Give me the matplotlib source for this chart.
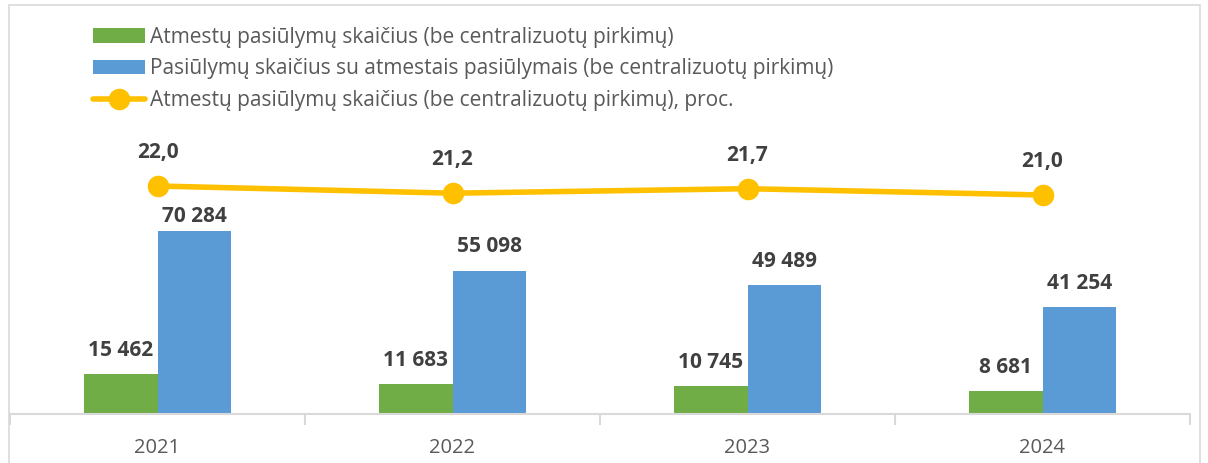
import matplotlib
matplotlib.use("Agg")
import matplotlib.pyplot as plt
from matplotlib.patches import Rectangle
import numpy as np

years = ["2021", "2022", "2023", "2024"]
rejected = [15462, 11683, 10745, 8681]
total = [70284, 55098, 49489, 41254]
percent = [22.0, 21.2, 21.7, 21.0]

labels = ["Atmestų pasiūlymų skaičius (be centralizuotų pirkimų)",
          "Pasiūlymų skaičius su atmestais pasiūlymais (be centralizuotų pirkimų)",
          "Atmestų pasiūlymų skaičius (be centralizuotų pirkimų), proc."]

def fmt_int(v):
    return f"{v:,}".replace(",", " ")

def fmt_pct(v):
    return f"{v:.1f}".replace(".", ",")

plt.rcParams['font.family'] = ['Open Sans', 'DejaVu Sans']
W, H = 1208, 463
fig = plt.figure(figsize=(W/100, H/100), dpi=100)

# border
fig.patches.append(Rectangle((9/W, -0.01), 1191/W, 1 - 5/H + 0.01, transform=fig.transFigure,
                             fill=False, edgecolor="#d9d9d9", linewidth=1.2))

ax_l, ax_r, ax_b, ax_t = 10, 1190, 414, 120
ax = fig.add_axes([ax_l/W, 1 - ax_b/H, (ax_r-ax_l)/W, (ax_b-ax_t)/H])
x = np.arange(len(years))
bw = 0.25
green, blue, yellow = "#70AD47", "#5B9BD5", "#FFC000"
lblc = "#404040"
b1 = ax.bar(x - bw/2, rejected, bw, color=green, label=labels[0])
b2 = ax.bar(x + bw/2, total, bw, color=blue, label=labels[1])
ymax = (ax_b-ax_t) * 70284 / 183
ax.set_ylim(0, ymax)
ax.set_xlim(-0.5, len(years)-0.5)
green_off = [13, 13, 13, 13]
blue_off = [6.5, 13, 13, 13]
for rect, v, off in zip(b1, rejected, green_off):
    ax.annotate(fmt_int(v), (rect.get_x()+rect.get_width()/2, v), xytext=(0, off),
                textcoords="offset points", ha="center", va="baseline",
                fontsize=15, fontweight="bold", color=lblc)
for rect, v, off in zip(b2, total, blue_off):
    ax.annotate(fmt_int(v), (rect.get_x()+rect.get_width()/2, v), xytext=(0, off),
                textcoords="offset points", ha="center", va="baseline",
                fontsize=15, fontweight="bold", color=lblc)

ax2 = ax.twinx()
ppu = 9.0
rng = (ax_b-ax_t)/ppu
bottom = 22.0 - (ax_b-186)/ppu
ax2.set_ylim(bottom, bottom + rng)
ln, = ax2.plot(x, percent, color=yellow, linewidth=4, marker="o", markersize=14.5,
               label=labels[2], solid_capstyle="round")
for xi, v in zip(x, percent):
    ax2.annotate(fmt_pct(v), (xi, v), xytext=(0, 20), textcoords="offset points",
                 ha="center", va="baseline", fontsize=15, fontweight="bold", color=lblc)

for a in (ax, ax2):
    for s in ["top", "right", "left", "bottom"]:
        a.spines[s].set_visible(False)
    a.set_yticks([])
ax.set_xticks(x)
ax.set_xticklabels(years, fontsize=14.5, color="#595959")
ax.tick_params(axis="x", length=0, pad=17)
ax.set_xticks(np.arange(-0.5, len(years)), minor=True)
ax.tick_params(axis="x", which="minor", length=8, color="#d9d9d9", width=1.5)
ax.spines["bottom"].set_visible(True)
ax.spines["bottom"].set_color("#d9d9d9")
ax.spines["bottom"].set_linewidth(1.5)

leg = fig.legend([b1, b2, ln], labels, loc="upper left",
                 bbox_to_anchor=(93/W, 1 - 27/H), frameon=False, fontsize=15,
                 handlelength=2.5, handleheight=0.7, handletextpad=0.25,
                 labelspacing=0.5, borderpad=0, borderaxespad=0)
for t in leg.get_texts():
    t.set_color("#595959")

fig.savefig("out.png", dpi=100)
